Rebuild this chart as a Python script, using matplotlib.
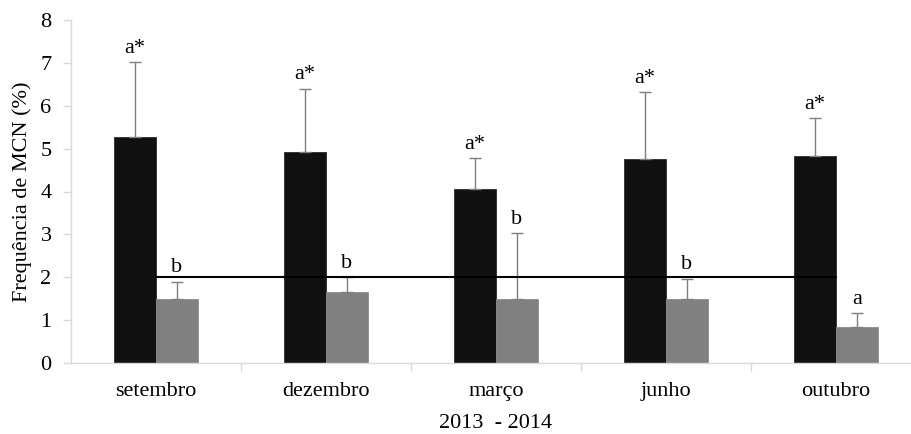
import matplotlib
matplotlib.use("Agg")
import matplotlib.pyplot as plt
import numpy as np

months = ["setembro", "dezembro", "março", "junho", "outubro"]
black_vals = [5.28, 4.91, 4.06, 4.75, 4.83]
black_err = [1.73, 1.49, 0.72, 1.57, 0.88]
gray_vals = [1.50, 1.66, 1.50, 1.50, 0.85]
gray_err = [0.40, 0.35, 1.53, 0.47, 0.31]
black_labels = ["a*", "a*", "a*", "a*", "a*"]
gray_labels = ["b", "b", "b", "b", "a"]
ref_level = 2.0
yticks = list(range(0, 9))

plt.rcParams['font.family'] = ['Liberation Serif', 'DejaVu Serif']

fig = plt.figure(figsize=(9.11, 4.34), dpi=100)
ax = fig.add_axes([71/911, 71/434, 850/911, 343/434])

x = np.arange(len(months))
w = 0.245
ax.bar(x - w, black_vals, width=w, align='edge', color='#111111',
       edgecolor='#2a2a2a', linewidth=0.6, zorder=2)
ax.bar(x, gray_vals, width=w, align='edge', color='#808080',
       edgecolor='#8c8c8c', linewidth=0.6, zorder=2)

ekw = dict(fmt='none', ecolor='#7f7f7f', elinewidth=1.0, capsize=4, capthick=1.0, zorder=3)
ax.errorbar(x - w/2, black_vals, yerr=[np.zeros(len(x)), black_err], **ekw)
ax.errorbar(x + w/2, gray_vals, yerr=[np.zeros(len(x)), gray_err], **ekw)

for i in range(len(x)):
    ax.annotate(black_labels[i], (x[i] - w/2, black_vals[i] + black_err[i]),
                xytext=(0, 3), textcoords='offset points', ha='center', va='bottom', fontsize=16)
    ax.annotate(gray_labels[i], (x[i] + w/2, gray_vals[i] + gray_err[i]),
                xytext=(0, 3), textcoords='offset points', ha='center', va='bottom', fontsize=16)

ax.plot([x[0], x[-1]], [ref_level, ref_level], color='black', linewidth=1.5, zorder=4)

ax.set_xlim(-0.5, len(months) - 0.5)
ax.set_ylim(0, 8)
ax.set_yticks(yticks)
ax.set_yticklabels([str(t) for t in yticks], fontsize=16)
ax.set_xticks(x)
ax.set_xticklabels(months, fontsize=16)
ax.set_xticks(np.arange(0.5, len(months) - 0.5, 1.0), minor=True)
ax.tick_params(axis='x', which='major', length=0, pad=14)
ax.tick_params(axis='x', which='minor', length=6, color='#d9d9d9', width=1)
ax.tick_params(axis='y', length=6, color='#d9d9d9', width=1, pad=8)

for s in ['top', 'right']:
    ax.spines[s].set_visible(False)
for s in ['left', 'bottom']:
    ax.spines[s].set_color('#d9d9d9')
    ax.spines[s].set_linewidth(1.0)

ax.set_ylabel("Frequência de MCN (%)", fontsize=16)
ax.yaxis.set_label_coords(-0.046, 0.5)
fig.text(0.5445, 10/434, "2013  - 2014", ha='center', va='center', fontsize=16)

fig.savefig("out.png", dpi=100)
